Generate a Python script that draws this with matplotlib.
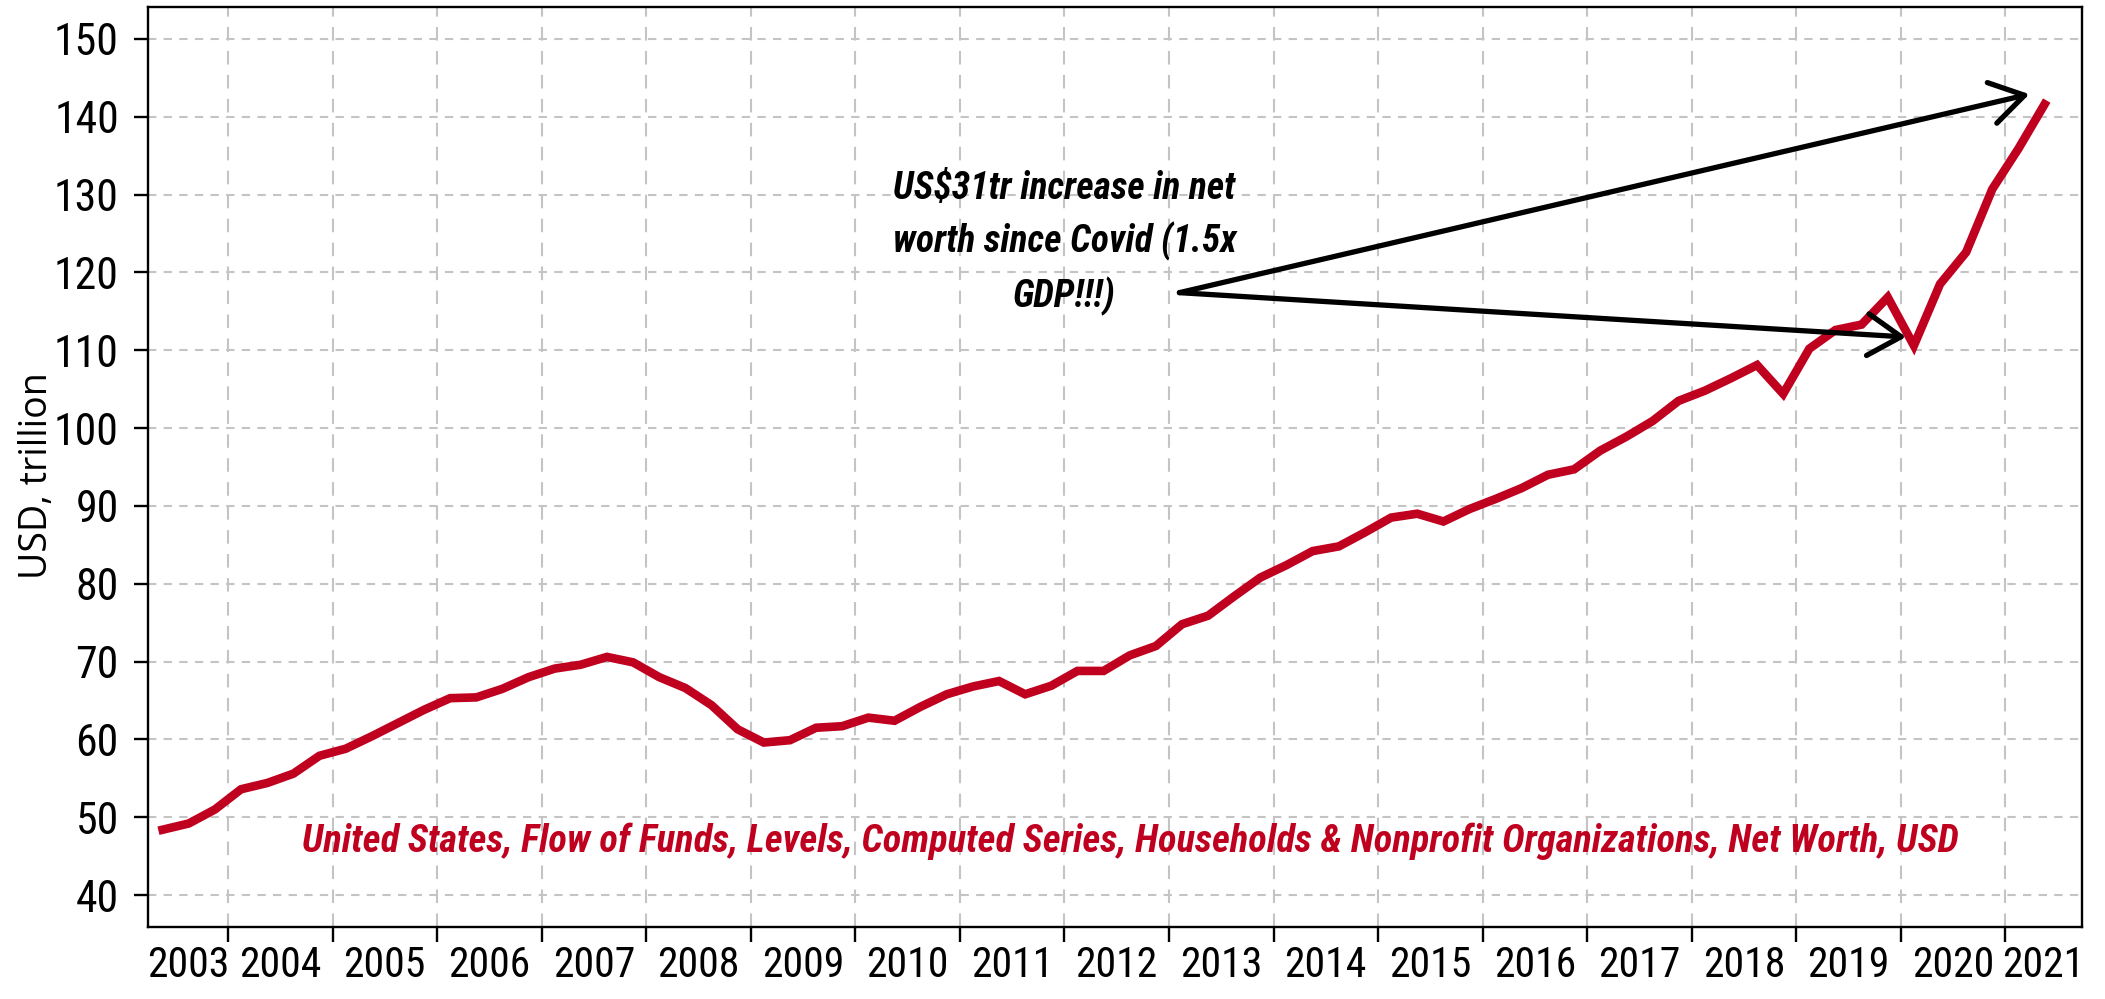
import os
import numpy as np
import pandas as pd
import matplotlib
matplotlib.use("Agg")
import matplotlib.pyplot as plt
from matplotlib import font_manager
from matplotlib.font_manager import FontProperties

# US households & nonprofit organizations, net worth, USD trillion (2003Q2 - 2021Q2)
quarters = pd.period_range("2003Q2", "2021Q2", freq="Q")
net_worth = [48.4, 49.2, 51.0, 53.6, 54.4, 55.6, 57.9, 58.8, 60.4, 62.1,
             63.8, 65.3, 65.4, 66.5, 68.0, 69.1, 69.6, 70.6, 69.9, 68.0,
             66.6, 64.4, 61.3, 59.6, 59.9, 61.5, 61.7, 62.8, 62.4, 64.2,
             65.8, 66.8, 67.5, 65.8, 66.9, 68.8, 68.8, 70.8, 72.0, 74.8,
             75.9, 78.4, 80.8, 82.4, 84.2, 84.8, 86.6, 88.5, 89.0, 88.0,
             89.6, 90.9, 92.3, 94.0, 94.7, 97.1, 98.9, 100.9, 103.5, 104.8,
             106.4, 108.1, 104.4, 110.2, 112.6, 113.3, 116.8, 110.6, 118.5, 122.6,
             130.7, 135.9, 141.6]
years = list(range(2003, 2022))
y_ticks = list(range(40, 151, 10))

note = "US$31tr increase in net\nworth since Covid (1.5x\nGDP!!!)"
note_pos = (2012.0, 123.8)
arrow_start = (2013.1, 117.4)
arrow_tips = [(2021.23, 142.9), (2020.05, 111.7)]
source = ("United States, Flow of Funds, Levels, Computed Series, "
          "Households & Nonprofit Organizations, Net Worth, USD")
source_pos = (2012.63, 46.9)

red = "#c0001f"
grid_col = "#c4c4c4"

# look for a narrow / condensed face on this machine
files = {}
for f in font_manager.fontManager.ttflist:
    key = os.path.splitext(os.path.basename(f.fname))[0].lower()
    files[key.replace("-", "").replace("_", "").replace(" ", "")] = f.fname

def find_font(keys, **fallback):
    for k in keys:
        if k in files:
            return FontProperties(fname=files[k])
    return FontProperties(**fallback)

fp_reg = find_font(["liberationsansnarrowregular", "liberationsansnarrow",
                    "robotocondensedregular", "opensanscondensedregular",
                    "dejavusanscondensed"],
                   family="DejaVu Sans", stretch="condensed")
fp_bi = find_font(["liberationsansnarrowbolditalic", "robotocondensedbolditalic",
                   "opensanscondensedbolditalic", "dejavusanscondensedboldoblique"],
                  family="DejaVu Sans", stretch="condensed", weight="bold", style="italic")

# mid-quarter positions in decimal years
x = quarters.year + (quarters.quarter - 1) / 4 + 0.125

fig = plt.figure(figsize=(21.05, 9.99), dpi=100)
ax = fig.add_axes([148 / 2105, 1 - 927 / 999, (2082 - 148) / 2105, (927 - 7) / 999])

xlim = (2003.235, 2021.733)
ax.set_xlim(*xlim)
ax.set_ylim(35.9, 154.1)

# grid
ax.set_xticks(years[1:])
ax.set_xticklabels([])
for yr in years[1:]:
    ax.axvline(yr, color=grid_col, lw=1.5, ls=(0, (6.5, 5)), zorder=0)
for v in y_ticks:
    ax.axhline(v, color=grid_col, lw=1.5, ls=(0, (4, 3.5)), zorder=0)

# year labels centred in the visible part of each year
label_pos = [(max(yr, xlim[0]) + min(yr + 1, xlim[1])) / 2 for yr in years]
ax.set_xticks(label_pos, [str(yr) for yr in years], minor=True)
ax.tick_params(axis="x", which="minor", length=0, pad=13)
ax.tick_params(axis="x", which="major", length=10.5, width=1.7, direction="out")
for lab in ax.get_xticklabels(minor=True):
    lab.set_fontproperties(fp_reg)
    lab.set_fontsize(30)

ax.set_yticks(y_ticks)
ax.tick_params(axis="y", length=10, width=1.7, direction="out", pad=11)
for lab in ax.get_yticklabels():
    lab.set_fontproperties(fp_reg)
    lab.set_fontsize(31.5)

for sp in ax.spines.values():
    sp.set_linewidth(1.7)

ax.plot(x, net_worth, color=red, lw=6.2, solid_joinstyle="miter", zorder=3)

for tip in arrow_tips:
    ax.annotate("", xy=tip, xytext=arrow_start,
                arrowprops=dict(arrowstyle="->,head_length=1.2,head_width=0.75",
                                mutation_scale=20, lw=3.8, color="black",
                                shrinkA=0, shrinkB=0), zorder=4)

t1 = ax.text(*note_pos, note, ha="center", va="center", linespacing=1.5, zorder=5)
t1.set_fontproperties(fp_bi)
t1.set_fontsize(27)
t2 = ax.text(*source_pos, source, ha="center", va="center", color=red, zorder=5)
t2.set_fontproperties(fp_bi)
t2.set_fontsize(27.7)

fig.text(37 / 2105, 1 - 476 / 999, "USD, trillion", rotation=90, ha="center",
         va="center", fontsize=27, family="Open Sans")

fig.savefig("out.png", dpi=100)
